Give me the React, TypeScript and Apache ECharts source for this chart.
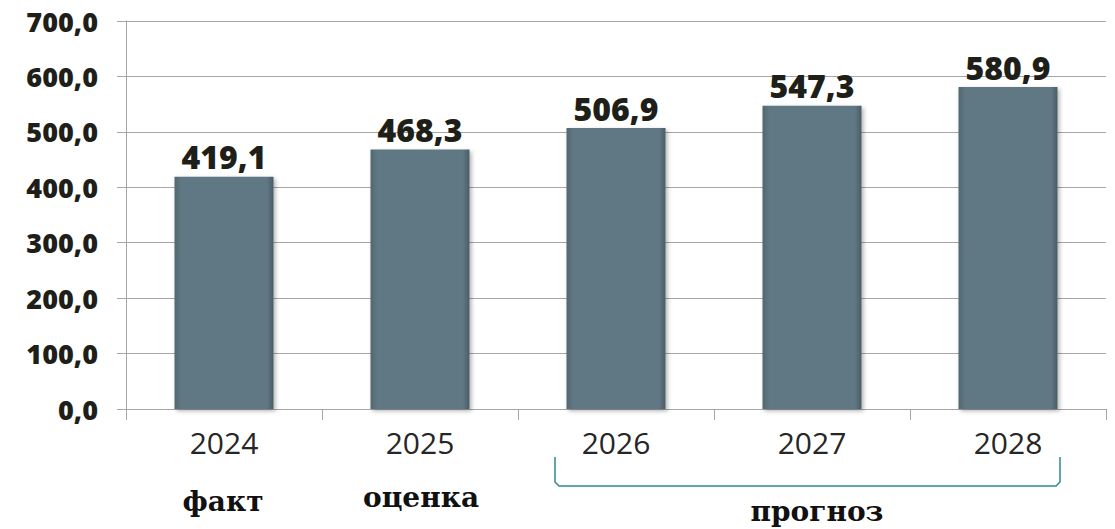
import React, { useEffect, useRef } from "react";
import * as echarts from "echarts";

const categories = ["2024", "2025", "2026", "2027", "2028"];
const values = [419.1, 468.3, 506.9, 547.3, 580.9];
const yTicks = { min: 0, max: 700, interval: 100 };
const notes = ["факт", "оценка", "прогноз"];

const fmt = (v: number) => v.toFixed(1).replace(".", ",");

export default function App() {
  const ref = useRef<HTMLDivElement>(null);
  useEffect(() => {
    document.body.style.margin = "0";
    const chart = echarts.init(ref.current!, null, { renderer: "svg" });
    const gray = "#a6a6a6";
    const serif = "'DejaVu Serif', 'Liberation Serif', serif";
    chart.setOption({
      animation: false,
      grid: { left: 126, right: 9, top: 21, bottom: 120, containLabel: false },
      xAxis: {
        type: "category",
        data: categories,
        boundaryGap: true,
        axisLine: { lineStyle: { color: gray, width: 1 } },
        axisTick: { show: true, length: 11, interval: 0, lineStyle: { color: gray } },
        axisLabel: {
          margin: 18,
          fontSize: 30,
          color: "#262626",
          fontFamily: "'Open Sans', sans-serif",
        },
      },
      yAxis: {
        type: "value",
        min: yTicks.min,
        max: yTicks.max,
        interval: yTicks.interval,
        axisLine: { show: true, lineStyle: { color: gray, width: 1 } },
        axisTick: { show: true, length: 9, lineStyle: { color: gray } },
        splitLine: { lineStyle: { color: gray, width: 1 } },
        axisLabel: {
          margin: 28,
          fontSize: 27,
          fontWeight: 800,
          color: "#1f1f1a",
          fontFamily: "'Open Sans', sans-serif",
          formatter: (v: number) => fmt(v),
        },
      },
      series: [
        {
          type: "bar",
          data: values,
          barWidth: 99,
          itemStyle: {
            color: new echarts.graphic.LinearGradient(0, 0, 1, 0, [
              { offset: 0, color: "#52676f" },
              { offset: 0.07, color: "#617884" },
              { offset: 0.93, color: "#617884" },
              { offset: 1, color: "#4a5d67" },
            ]),
            shadowBlur: 4,
            shadowOffsetX: 2,
            shadowOffsetY: 2,
            shadowColor: "rgba(0,0,0,0.3)",
          },
          label: {
            show: true,
            position: "top",
            distance: 4,
            fontSize: 32,
            fontWeight: 800,
            color: "#1f1f1a",
            fontFamily: "'Open Sans', sans-serif",
            formatter: (p: any) => fmt(p.value),
          },
        },
      ],
      graphic: [
        {
          type: "text",
          x: 223,
          y: 501,
          style: {
            text: notes[0],
            font: `bold 28px ${serif}`,
            fill: "#111",
            align: "center",
            verticalAlign: "middle",
          },
        },
        {
          type: "text",
          x: 421,
          y: 497,
          style: {
            text: notes[1],
            font: `bold 28px ${serif}`,
            fill: "#111",
            align: "center",
            verticalAlign: "middle",
          },
        },
        {
          type: "text",
          x: 817,
          y: 511,
          style: {
            text: notes[2],
            font: `bold 28px ${serif}`,
            fill: "#111",
            align: "center",
            verticalAlign: "middle",
          },
        },
        {
          type: "polyline",
          shape: {
            points: [
              [555, 457],
              [555, 482],
              [559, 486],
              [1056, 486],
              [1060, 482],
              [1060, 457],
            ],
          },
          style: { stroke: "#2f8a8c", lineWidth: 1.5, fill: "none" },
        },
      ],
    });
    return () => chart.dispose();
  }, []);
  return <div ref={ref} style={{ width: 1115, height: 529 }} />;
}
